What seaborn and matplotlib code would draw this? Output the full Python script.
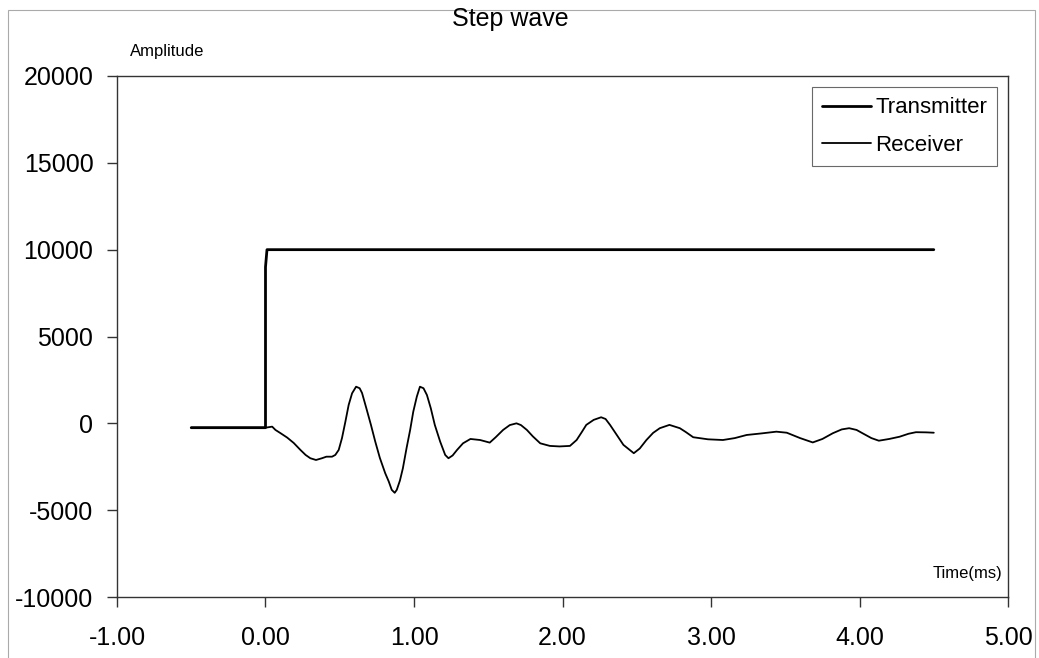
import numpy as np
import pandas as pd
import matplotlib
matplotlib.use("Agg")
import matplotlib.pyplot as plt
from matplotlib.patches import Rectangle
import seaborn as sns

# transmitter step (time in ms, amplitude)
tx_time = [-0.50, 0.00, 0.00, 0.01, 4.50]
tx_amp = [-250, -250, 9000, 10000, 10000]

# receiver trace
rx_time = [-0.50, 0.00, 0.045, 0.067, 0.10, 0.146, 0.19, 0.235, 0.27, 0.302,
           0.34, 0.38, 0.41, 0.448, 0.47, 0.493, 0.515, 0.538, 0.56, 0.583,
           0.61, 0.634, 0.65, 0.679, 0.71, 0.739, 0.77, 0.806, 0.83, 0.85,
           0.87, 0.884, 0.905, 0.925, 0.95, 0.974, 0.995, 1.019, 1.04, 1.064,
           1.087, 1.113, 1.14, 1.176, 1.21, 1.232, 1.26, 1.29, 1.33, 1.38,
           1.445, 1.51, 1.55, 1.60, 1.645, 1.69, 1.72, 1.76, 1.80, 1.85,
           1.915, 1.98, 2.05, 2.095, 2.13, 2.16, 2.21, 2.26, 2.29, 2.32,
           2.36, 2.41, 2.48, 2.52, 2.565, 2.61, 2.655, 2.72, 2.79, 2.83,
           2.88, 2.98, 3.08, 3.16, 3.24, 3.34, 3.44, 3.51, 3.60, 3.685,
           3.75, 3.82, 3.88, 3.93, 3.98, 4.02, 4.08, 4.13, 4.20, 4.27,
           4.33, 4.38, 4.45, 4.50]
rx_amp = [-250, -250, -190, -380, -560, -820, -1130, -1530, -1820, -2010,
          -2110, -2010, -1920, -1920, -1820, -1530, -850, 100, 1060, 1730,
          2110, 2020, 1750, 870, -90, -1050, -1990, -2870, -3350, -3830,
          -4000, -3830, -3300, -2590, -1420, -380, 670, 1540, 2110, 2020,
          1630, 870, -90, -1050, -1820, -2010, -1850, -1530, -1150, -900,
          -960, -1110, -800, -380, -100, 0, -100, -380, -750, -1150,
          -1300, -1330, -1300, -960, -500, -90, 200, 350, 250, -90,
          -600, -1240, -1720, -1450, -960, -550, -280, -90, -280, -500,
          -800, -920, -960, -850, -670, -580, -480, -540, -850, -1100,
          -900, -570, -350, -280, -380, -570, -850, -1000, -900, -770,
          -600, -510, -520, -540]

x_ticks = [-1, 0, 1, 2, 3, 4, 5]
y_ticks = [-10000, -5000, 0, 5000, 10000, 15000, 20000]

sns.set_theme(style="white")
plt.rcParams['font.family'] = ['Liberation Sans', 'DejaVu Sans']
plt.rcParams['text.color'] = 'black'
plt.rcParams['xtick.color'] = 'black'
plt.rcParams['ytick.color'] = 'black'

fig = plt.figure(figsize=(10.39, 6.58), dpi=100)
ax = fig.add_axes([0.1126, 0.0927, 0.8576, 0.7918])

tx = pd.DataFrame({"t": tx_time, "a": tx_amp})
rx = pd.DataFrame({"t": rx_time, "a": rx_amp})
sns.lineplot(data=tx, x="t", y="a", sort=False, estimator=None, color="black",
             linewidth=2.0, label="Transmitter", ax=ax)
sns.lineplot(data=rx, x="t", y="a", sort=False, estimator=None, color="black",
             linewidth=1.3, label="Receiver", ax=ax)

ax.set_xlim(-1, 5)
ax.set_ylim(-10000, 20000)
ax.set_xticks(x_ticks)
ax.set_xticklabels([f"{v:.2f}" for v in x_ticks])
ax.set_yticks(y_ticks)
ax.set_yticklabels([str(v) for v in y_ticks])
ax.set_xlabel("")
ax.set_ylabel("")
ax.tick_params(axis="x", direction="out", length=7, width=1, color="#333333",
               labelsize=18, labelcolor="black", pad=14, bottom=True)
ax.tick_params(axis="y", direction="out", length=7, width=1, color="#333333",
               labelsize=18, labelcolor="black", pad=10, left=True)
for s in ax.spines.values():
    s.set_color("#333333")
    s.set_linewidth(1.0)

leg = ax.legend(loc="upper right", bbox_to_anchor=(0.988, 0.978), fontsize=16,
                frameon=True, fancybox=False, edgecolor="#444444",
                handlelength=2.2, handletextpad=0.2, borderpad=0.45,
                labelspacing=0.75, borderaxespad=0)
leg.get_frame().set_linewidth(0.8)
for t in leg.get_texts():
    t.set_color("black")

ax.text(0.994, 0.046, "Time(ms)", transform=ax.transAxes, ha="right",
        va="center", fontsize=12)
fig.text(0.161, 0.921, "Amplitude", ha="center", va="center", fontsize=12)
fig.text(0.491, 0.971, "Step wave", ha="center", va="center", fontsize=18)

fig.patches.append(Rectangle((0.008, -0.01), 0.988, 0.995, transform=fig.transFigure,
                             fill=False, edgecolor="#aaaaaa", linewidth=0.8))

fig.savefig("out.png", dpi=100)
